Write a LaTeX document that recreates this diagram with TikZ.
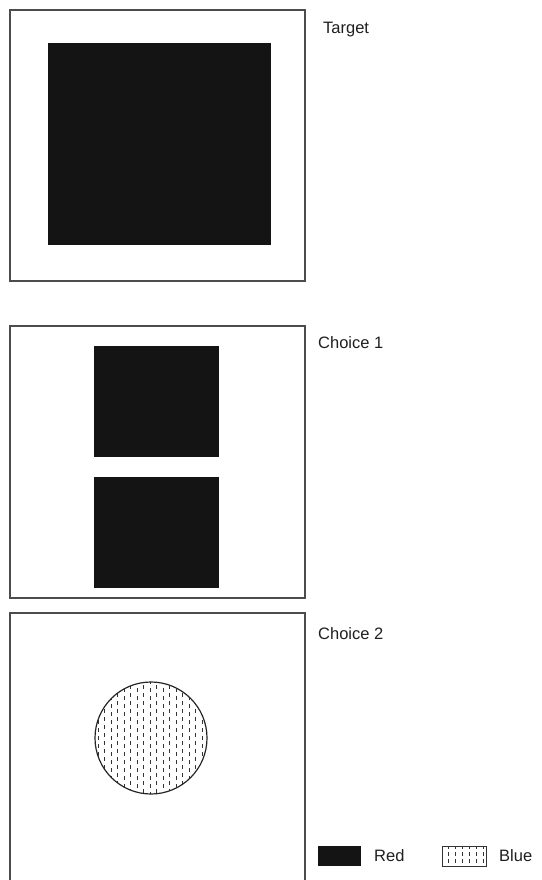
\documentclass[tikz,border=0pt]{standalone}
\usepackage{fontspec}
\setmainfont{Liberation Sans}
\begin{document}
\begin{tikzpicture}[
    x=1pt, y=-1pt,
    frame/.style={draw=black!70, line width=1.1pt},
    redfill/.style={fill=black!92},
    hatch/.style={black!80, line width=0.9pt, dash pattern=on 4pt off 4pt},
    lbl/.style={font=\fontsize{16.5}{19}\selectfont, text=black!88,
                anchor=west, inner sep=0pt}
]
\useasboundingbox (0,0) rectangle (541,880);

% ---------- target ----------
\draw[frame] (10,10) rectangle (305,281);
\fill[redfill] (48,43) rectangle (271,245);
\node[lbl] (target) at (323,30) {Target};

% ---------- choice 1 ----------
\draw[frame] (10,326) rectangle (305,598);
\fill[redfill] (94,346) rectangle (219,457);
\fill[redfill] (94,477) rectangle (219,588);
\node[lbl] (choiceA) at (318,343) {Choice 1};

% ---------- choice 2, frame runs off the page ----------
\draw[frame] (10,885) -- (10,613) -- (305,613) -- (305,885);
\begin{scope}
  \clip (151,738) circle (56);
  \foreach \u in {98,111,...,208}
    \draw[hatch] (\u,680) -- (\u,798);
  \foreach \u in {104.5,117.5,...,208}
    \draw[hatch, dash phase=3pt] (\u,680) -- (\u,798);
\end{scope}
\draw[black!85, line width=1.2pt] (151,738) circle (56);
\node[lbl] (choiceB) at (318,634) {Choice 2};

% ---------- legend ----------
\fill[redfill] (318,846) rectangle (361,866);
\node[lbl] (red) at (374,856) {Red};
\begin{scope}
  \clip (442,846) rectangle (486,866);
  \foreach \u in {448,455,...,484}
    \draw[hatch, dash pattern=on 4pt off 3pt, dash phase=1pt] (\u,846) -- (\u,866);
\end{scope}
\draw[black!80, line width=0.9pt] (442,846) rectangle (486,866);
\node[lbl] (blue) at (499,856) {Blue};

\end{tikzpicture}
\end{document}
